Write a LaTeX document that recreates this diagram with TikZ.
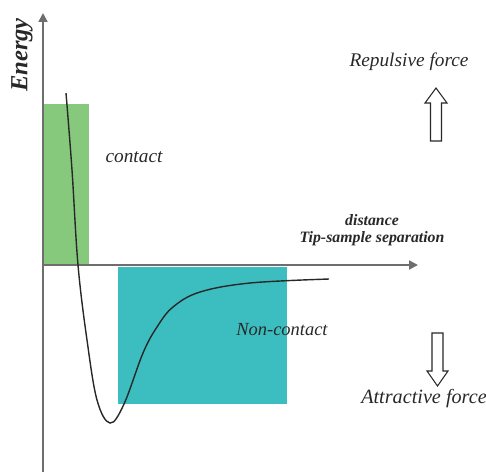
\documentclass[tikz,border=0pt]{standalone}
\usepackage{fontspec}
\setmainfont{Liberation Serif}
\usetikzlibrary{arrows.meta}

\definecolor{contactgreen}{RGB}{134,201,125}
\definecolor{ncteal}{RGB}{60,190,192}
\definecolor{axisgray}{RGB}{110,110,110}
\definecolor{inkgray}{RGB}{40,40,40}

\begin{document}
\begin{tikzpicture}[x=0.02cm,y=-0.02cm,
    label/.style={text=inkgray,font=\itshape,inner sep=0pt},
    axis/.style={draw=axisgray,line width=1.1pt,-{Triangle[length=5pt,width=5pt]}},
    force/.style={draw=inkgray,line width=0.6pt,fill=white,line join=miter}]

  \useasboundingbox (0,0) rectangle (486,474);

  % regions
  \fill[contactgreen] (43,104) rectangle (89,265);
  \fill[ncteal]       (118,267) rectangle (287,404);

  % axes
  \coordinate (origin) at (43,265);
  \coordinate (ytop)   at (43,13);
  \coordinate (ybot)   at (43,472);
  \coordinate (xend)   at (418,265);
  \draw[axisgray,line width=1.1pt] (ybot) -- (origin);
  \draw[axis] (origin) -- (ytop);
  \draw[axis] (origin) -- (xend);

  % potential curve
  \draw[inkgray,line width=0.8pt] plot[smooth,tension=0.6] coordinates
    {(66,93) (72,170) (78,265) (87,340) (97,400) (110,423) (124,404)
     (143,353) (157,327) (173,307) (200,292) (250,283) (329,279)};

  % labels
  \node[label,font=\bfseries\itshape\fontsize{14}{16}\selectfont,rotate=90] (energy) at (22,55) {Energy};
  \node[label,font=\itshape\fontsize{11}{13}\selectfont] (contact) at (134,157) {contact};
  \node[label,font=\itshape\fontsize{11}{13}\selectfont] (repulsive) at (409,62) {Repulsive force};
  \node[label,font=\bfseries\itshape\fontsize{9}{11}\selectfont] (dist) at (372,220) {distance};
  \node[label,font=\bfseries\itshape\fontsize{9}{11}\selectfont] (sep) at (372,239) {Tip-sample separation};
  \node[label,font=\itshape\fontsize{10.5}{12}\selectfont] (noncontact) at (282,330) {Non-contact};
  \node[label,font=\itshape\fontsize{11.5}{13}\selectfont] (attractive) at (424,399) {Attractive force};

  % force arrows
  \coordinate (up) at (436,88);
  \draw[force] (up) -- ++(11,15) -- ++(-5.5,0) -- ++(0,38) -- ++(-11,0)
    -- ++(0,-38) -- ++(-5.5,0) -- cycle;
  \coordinate (down) at (437.5,386);
  \draw[force] (down) -- ++(10.5,-15) -- ++(-5,0) -- ++(0,-38) -- ++(-11,0)
    -- ++(0,38) -- ++(-5,0) -- cycle;
\end{tikzpicture}
\end{document}
